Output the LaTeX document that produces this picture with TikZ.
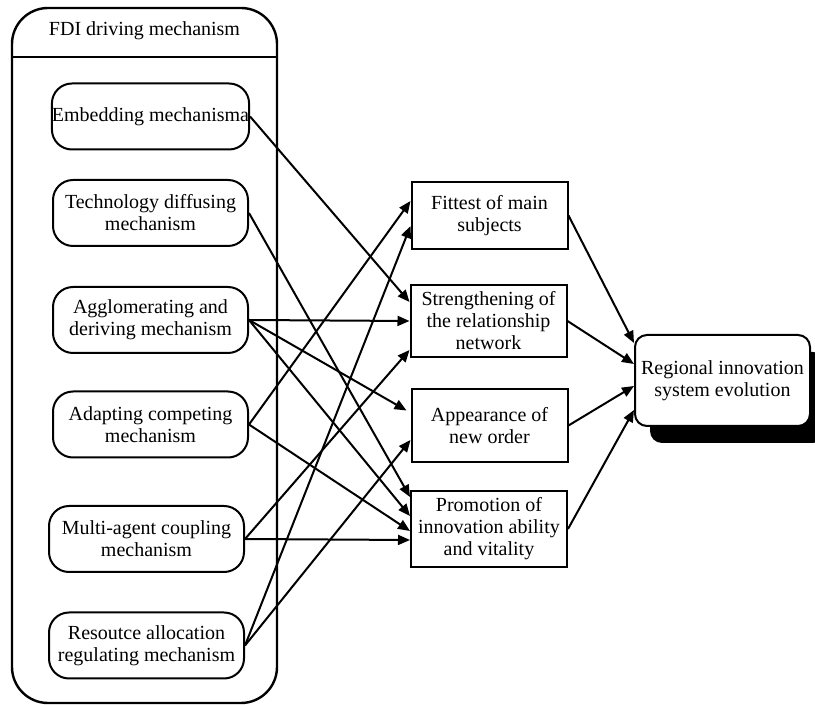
\documentclass[tikz,border=0pt]{standalone}
\usepackage{fontspec}
\setmainfont{Liberation Serif}
\usetikzlibrary{arrows.meta,calc,shadows}
\begin{document}
\begin{tikzpicture}[x=0.5pt,y=-0.5pt,
  every node/.style={font=\fontsize{10}{11}\selectfont},
  container/.style={draw, line width=1.2pt, rounded corners=18pt, minimum width=132.5pt, minimum height=347.5pt, inner sep=0pt},
  mech/.style={draw, line width=1pt, rounded corners=10pt, minimum width=97.5pt, minimum height=33pt, inner sep=0pt, align=center},
  effect/.style={draw, line width=1pt, minimum width=78pt, inner sep=0pt, align=center},
  result/.style={draw, line width=1pt, rounded corners=6pt, fill=white, minimum width=87.5pt, minimum height=45.5pt, inner sep=0pt, align=center,
    general shadow={fill=black, shadow xshift=7.5pt, shadow yshift=-8.5pt}},
  conn/.style={-{Triangle[length=6pt,width=5pt]}, line width=1pt}]
\useasboundingbox (0,0) rectangle (815,705);
% container
\node[container] (fdi) at (144.5,355.5) {};
\draw[line width=1.2pt] (fdi.west |- 0,57) -- (fdi.east |- 0,57);
\node (fdihead) at (144.5,31) {FDI driving mechanism};
% mechanisms
\node[mech] (emb)  at (150.5,116.5) {Embedding mechanisma};
\node[mech] (tech) at (150.5,213)   {Technology diffusing\\mechanism};
\node[mech] (agg)  at (150.5,320)   {Agglomerating and\\deriving mechanism};
\node[mech] (adp)  at (150.5,424.5) {Adapting competing\\mechanism};
\node[mech] (mul)  at (146.5,539)   {Multi-agent coupling\\mechanism};
\node[mech] (res)  at (146.5,645.5) {Resoutce allocation\\regulating mechanism};
% effects
\node[effect, minimum height=33.5pt] (fit) at (489.5,215.5) {Fittest of main\\subjects};
\node[effect, minimum height=36pt]   (str) at (488.5,321)   {Strengthening of\\the relationship\\network};
\node[effect, minimum height=36.5pt] (app) at (489.5,425.5) {Appearance of\\new order};
\node[effect, minimum height=38pt]   (pro) at (489,529)     {Promotion of\\innovation ability\\and vitality};
% result
\node[result] (reg) at (722.5,380.5) {Regional innovation\\system evolution};
% connectors left
\draw[conn] (emb.east)  -- ($(str.west)+(0,-19)$);
\draw[conn] (tech.east) -- ($(pro.west)+(0,-32)$);
\draw[conn] (agg.east)  -- (str.west);
\draw[conn] (agg.east)  -- ($(app.west)+(-4,-15)$);
\draw[conn] (agg.east)  -- ($(pro.west)+(0,-13)$);
\draw[conn] (adp.east)  -- ($(fit.west)+(0,-14.5)$);
\draw[conn] (adp.east)  -- ($(pro.west)+(0,2)$);
\draw[conn] (mul.east)  -- ($(str.west)+(0,29)$);
\draw[conn] (mul.east)  -- ($(pro.west)+(0,11)$);
\draw[conn] (res.east)  -- ($(fit.west)+(0,10.5)$);
\draw[conn] (res.east)  -- ($(app.west)+(0,14.5)$);
% connectors right
\draw[conn] (fit.east) -- ($(reg.west)+(0,-37.5)$);
\draw[conn] (str.east) -- ($(reg.west)+(0,-16.5)$);
\draw[conn] (app.east) -- ($(reg.west)+(0,5.5)$);
\draw[conn] (pro.east) -- ($(reg.west)+(0,29.5)$);
\end{tikzpicture}
\end{document}
